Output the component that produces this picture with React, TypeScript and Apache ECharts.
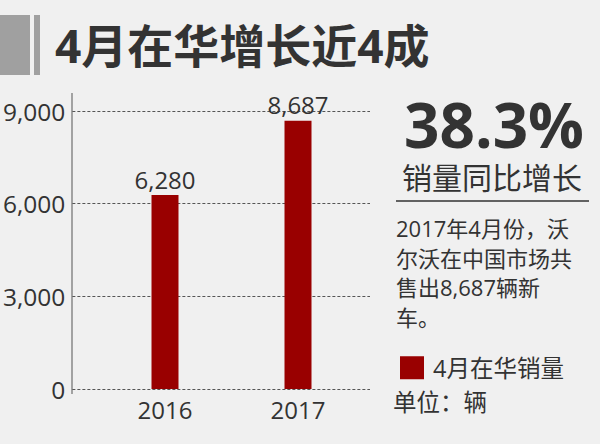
import React, { useEffect, useRef } from "react";
import * as echarts from "echarts";

const categories = ["2016", "2017"];
const salesValues = [6280, 8687];
const seriesName = "4月在华销量";
const yTicks = { min: 0, max: 9000, interval: 3000 };
const titleText = "4月在华增长近4成";
const growthText = "38.3%";
const growthLabel = "销量同比增长";
const noteLines = ["2017年4月份，沃", "尔沃在中国市场共", "售出8,687辆新", "车。"];
const unitText = "单位：辆";

const FONT = "'Open Sans', 'Noto Sans CJK SC', sans-serif";
const CJK = "'Noto Sans CJK SC', sans-serif";
const fmt = (v: number) => v.toLocaleString("en-US");

export default function App() {
  const ref = useRef<HTMLDivElement>(null);
  useEffect(() => {
    if (!ref.current) return;
    const chart = echarts.init(ref.current, null, { renderer: "svg" });
    const gridTop = 111;
    const gridBottom = 55;
    chart.setOption({
      animation: false,
      backgroundColor: "#f0f0f0",
      textStyle: { fontFamily: FONT },
      grid: [
        { left: 72, top: gridTop, width: 298, bottom: gridBottom },
        { left: 98.5, top: gridTop, width: 266, bottom: gridBottom },
      ],
      xAxis: [
        { gridIndex: 0, type: "value", min: 0, max: 1, show: false },
        {
          gridIndex: 1,
          type: "category",
          data: categories,
          axisLine: { show: false },
          axisTick: { show: false },
          axisLabel: { fontSize: 24, color: "#333", margin: 8, fontFamily: FONT },
        },
      ],
      yAxis: [
        {
          gridIndex: 0,
          type: "value",
          min: yTicks.min,
          max: yTicks.max,
          interval: yTicks.interval,
          axisLine: { show: false },
          axisTick: { show: false },
          axisLabel: {
            fontSize: 24.5,
            color: "#333",
            margin: 7,
            fontFamily: FONT,
            formatter: (v: number) => fmt(v),
          },
          splitLine: { show: true, lineStyle: { color: "#555", type: [3, 2], width: 1 } },
        },
        { gridIndex: 1, type: "value", min: yTicks.min, max: yTicks.max, show: false },
      ],
      legend: {
        data: [seriesName],
        left: 395,
        top: 351,
        icon: "rect",
        itemWidth: 24,
        itemHeight: 23,
        textStyle: { fontSize: 23.5, color: "#333", fontFamily: FONT, padding: [0, 0, 0, 4] },
      },
      series: [
        {
          name: seriesName,
          type: "bar",
          xAxisIndex: 1,
          yAxisIndex: 1,
          data: salesValues,
          barWidth: 27,
          itemStyle: { color: "#990000" },
          label: {
            show: true,
            position: "top",
            distance: 4,
            fontSize: 24,
            color: "#333",
            fontFamily: FONT,
            formatter: (p: any) => fmt(p.value),
          },
        },
      ],
      graphic: [
        { type: "rect", shape: { x: 0, y: 15, width: 30, height: 60 }, style: { fill: "#a0a0a0" } },
        { type: "rect", shape: { x: 34, y: 15, width: 6, height: 60 }, style: { fill: "#a0a0a0" } },
        {
          type: "text",
          x: 55,
          y: 45,
          style: {
            text: titleText,
            fontSize: 46,
            fontWeight: "bold",
            fontFamily: FONT,
            fill: "#333",
            textAlign: "left",
            textVerticalAlign: "middle",
          },
        },
        { type: "line", shape: { x1: 72, y1: 93, x2: 72, y2: 394 }, style: { stroke: "#555", lineWidth: 1 } },
        {
          type: "text",
          x: 494,
          y: 124,
          style: {
            text: growthText,
            fontSize: 62,
            lineHeight: 48,
            fontWeight: "bold",
            fontFamily: FONT,
            fill: "#333",
            textAlign: "center",
            textVerticalAlign: "middle",
          },
        },
        {
          type: "text",
          x: 492,
          y: 176,
          style: {
            text: growthLabel,
            fontSize: 30,
            lineHeight: 30,
            fontFamily: CJK,
            fill: "#333",
            textAlign: "center",
            textVerticalAlign: "middle",
          },
        },
        { type: "line", shape: { x1: 396, y1: 201, x2: 589, y2: 201 }, style: { stroke: "#333", lineWidth: 1.5 } },
        ...noteLines.map((line, i) => ({
          type: "text",
          x: 396,
          y: 228 + i * 29.5,
          style: {
            text: line,
            fontSize: 22,
            fontFamily: FONT,
            fill: "#333",
            textAlign: "left",
            textVerticalAlign: "middle",
          },
        })),
        {
          type: "text",
          x: 393,
          y: 402,
          style: {
            text: unitText,
            fontSize: 23.5,
            fontFamily: FONT,
            fill: "#333",
            textAlign: "left",
            textVerticalAlign: "middle",
          },
        },
      ],
    });
    return () => chart.dispose();
  }, []);
  return <div ref={ref} style={{ position: "fixed", left: 0, top: 0, width: 600, height: 444 }} />;
}
